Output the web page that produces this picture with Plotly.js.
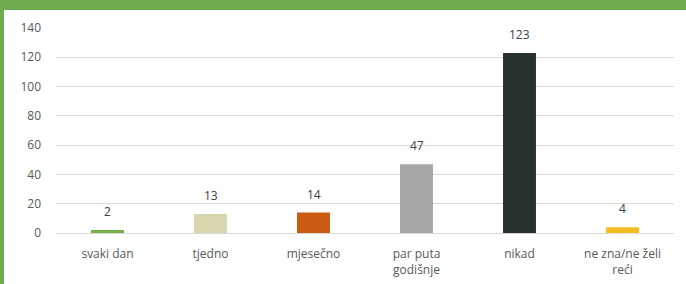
<!DOCTYPE html>
<html><head><meta charset="utf-8">
<script src="https://cdn.plot.ly/plotly-3.0.1.min.js"></script>
<style>
html,body{margin:0;padding:0;background:#fff;}
#wrap{position:relative;width:686px;height:284px;background:#fff;overflow:hidden;}
#topbar{position:absolute;left:0;top:0;width:686px;height:10px;background:#6fac4f;}
#leftbar{position:absolute;left:0;top:0;width:4px;height:284px;background:#6fac4f;}
#chart{position:absolute;left:4px;top:10px;width:682px;height:274px;}
</style></head>
<body>
<div id="wrap"><div id="topbar"></div><div id="leftbar"></div><div id="chart"></div></div>
<script>
const categories = ["svaki dan", "tjedno", "mjesečno", "par puta<br>godišnje", "nikad", "ne zna/ne želi<br>reći"];
const values = [2, 13, 14, 47, 123, 4];
const barColors = ["#77b04b", "#d8d6ac", "#c95b12", "#a6a6a6", "#263130", "#f5bd22"];
const yTicks = [0, 20, 40, 60, 80, 100, 120, 140];

const trace = {
  type: "bar",
  x: categories,
  y: values,
  marker: {color: barColors},
  hoverinfo: "none"
};

const labelAnnotations = categories.map((c, i) => ({
  x: c, y: values[i], xref: "x", yref: "y",
  text: String(values[i]),
  showarrow: false,
  yanchor: "bottom",
  yshift: 8,
  font: {family: "Open Sans, Liberation Sans, sans-serif", size: 12, color: "#404040"}
}));

const layout = {
  width: 682, height: 274,
  margin: {l: 52, r: 12, t: 18, b: 51},
  paper_bgcolor: "#ffffff",
  plot_bgcolor: "#ffffff",
  bargap: 0.68,
  showlegend: false,
  font: {family: "Open Sans, Liberation Sans, sans-serif", size: 12, color: "#595959"},
  annotations: labelAnnotations,
  xaxis: {
    type: "category",
    showgrid: false,
    showline: false,
    zeroline: false,
    ticks: "",
    tickfont: {size: 12, color: "#595959"},
    ticklabelstandoff: 12
  },
  yaxis: {
    range: [0, 140],
    tickvals: yTicks,
    ticktext: yTicks.map(String),
    showgrid: true,
    gridcolor: "#d9d9d9",
    gridwidth: 1,
    zeroline: true,
    zerolinecolor: "#d9d9d9",
    zerolinewidth: 1,
    showline: false,
    ticks: "",
    tickfont: {size: 12, color: "#595959"},
    ticklabelstandoff: 14
  }
};

Plotly.newPlot("chart", [trace], layout, {displayModeBar: false, staticPlot: true});
</script>
</body></html>
